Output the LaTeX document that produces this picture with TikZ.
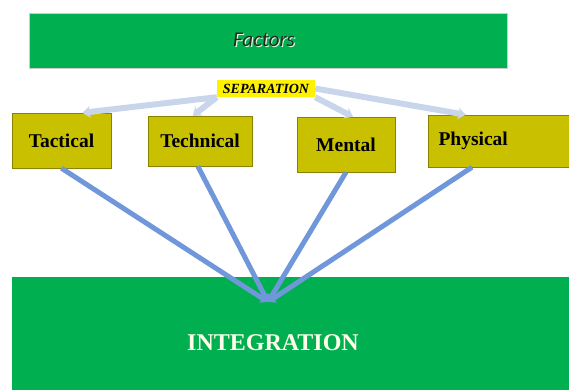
\documentclass[tikz,border=0pt]{standalone}
\usepackage{fontspec}
\setmainfont{Liberation Serif}
\newfontfamily\factfont{Carlito}
\usepackage{xcolor}
\usetikzlibrary{positioning,arrows.meta,calc}
\definecolor{boxgreen}{HTML}{00B050}
\definecolor{boxolive}{HTML}{C9C100}
\definecolor{edgeolive}{HTML}{8A8300}
\definecolor{sepblue}{HTML}{C8D5EA}
\definecolor{linkblue}{HTML}{6F97DA}

\begin{document}
\begin{tikzpicture}[x=1pt, y=-1pt, >=Stealth, every node/.style={align=center, inner sep=0pt}]
  \def\bh{55pt}
  \useasboundingbox (0,0) rectangle (569,390);

  % top bar
  \node[fill=boxgreen, draw=gray!40, minimum width=478pt, minimum height=\bh] (factors) at (268,40.5)
    {\factfont\itshape\fontsize{21}{24}\selectfont
     \hspace{-8pt}\makebox[0pt][l]{\hspace{1.2pt}\raisebox{-1.2pt}{\color{white!85!green}Factors}}\color{black!85}Factors};

  \node[fill=yellow, minimum width=98pt, minimum height=17pt] (sep) at (266,88.5)
    {\bfseries\itshape\fontsize{14}{16}\selectfont SEPARATION};

  % factor boxes
  \node[draw=edgeolive, fill=boxolive, minimum width=99pt, minimum height=\bh] (tactical) at (61.5,140.5)
    {\bfseries\fontsize{19.5}{22}\selectfont Tactical};
  \node[draw=edgeolive, fill=boxolive, minimum width=104pt, minimum height=50pt] (technical) at (200,141)
    {\bfseries\fontsize{19.5}{22}\selectfont Technical};
  \node[draw=edgeolive, fill=boxolive, minimum width=98pt, minimum height=\bh] (mental) at (346,144.5)
    {\bfseries\fontsize{19.5}{22}\selectfont Mental};
  \node[draw=edgeolive, fill=boxolive, minimum width=150pt, minimum height=52pt, anchor=west] (physical) at (428,141)
    {\bfseries\fontsize{19.5}{22}\selectfont\hspace{-60pt}Physical};

  % bottom block
  \fill[boxgreen] (12,277) rectangle (580,400);
  \node[text=white!92!yellow] (integration) at (273,343)
    {\bfseries\fontsize{24}{28}\selectfont INTEGRATION};
  \coordinate (hub) at (268,302);

  \draw[->, sepblue, line width=6pt, arrows={-Stealth[length=8pt,width=12pt]}] (sep.south west) -- (tactical.53);
  \draw[->, sepblue, line width=6pt, arrows={-Stealth[length=8pt,width=12pt]}] (sep.south west) -- (technical.106);
  \draw[->, sepblue, line width=6pt, arrows={-Stealth[length=8pt,width=12pt]}] (sep.south east) -- (mental.76);
  \draw[->, sepblue, line width=6pt, arrows={-Stealth[length=8pt,width=12pt]}] (sep.east) -- (physical.145);

  \draw[linkblue, line width=5pt, arrows={-Triangle[length=7pt,width=10pt]}] (tactical.south) -- (hub);
  \draw[linkblue, line width=5pt, arrows={-Triangle[length=7pt,width=10pt]}] (technical.-95) -- (hub);
  \draw[linkblue, line width=5pt, arrows={-Triangle[length=7pt,width=10pt]}] (mental.south) -- (hub);
  \draw[linkblue, line width=5pt, arrows={-Triangle[length=7pt,width=10pt]}] (physical.-140) -- (hub);
\end{tikzpicture}
\end{document}
